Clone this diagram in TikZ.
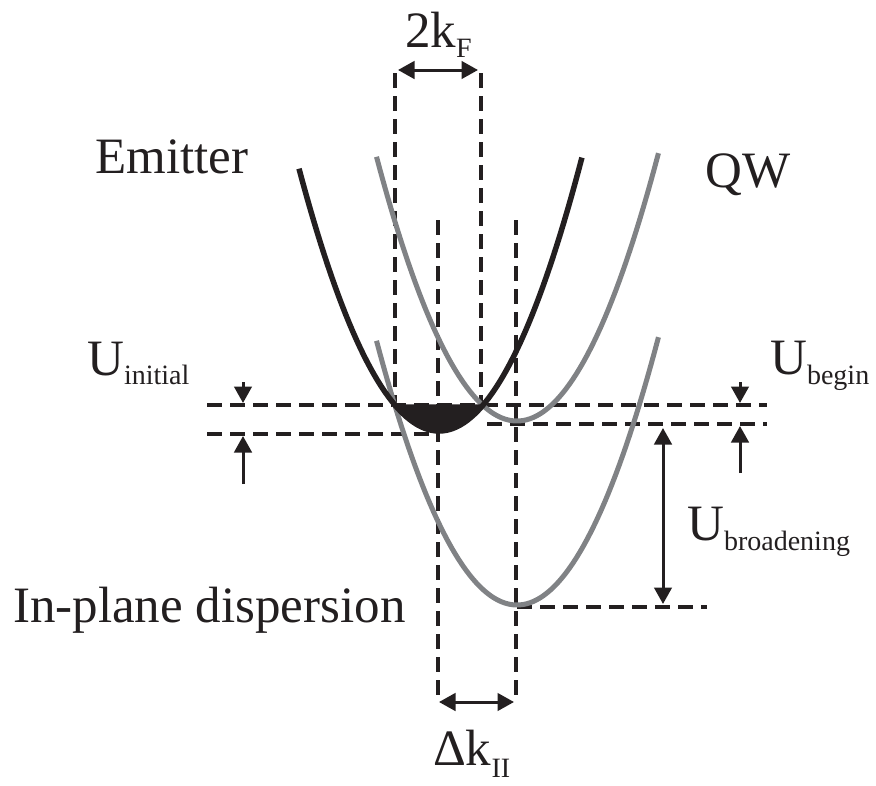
\documentclass[tikz,border=0pt]{standalone}
\usepackage{fontspec}
\setmainfont{Liberation Serif}
\usetikzlibrary{arrows.meta}
\definecolor{ink}{RGB}{35,31,32}
\definecolor{qwgray}{RGB}{128,130,133}
\tikzset{
  guide/.style={ink, line width=3.2pt, dash pattern=on 15pt off 8pt},
  emit/.style={ink, line width=5.5pt},
  qw/.style={qwgray, line width=5pt},
  headtip/.tip={Triangle[length=16.5pt 0 0, width=17.5pt 0 0]},
  dimarrow/.style={ink, line width=3pt, -headtip},
  ddimarrow/.style={ink, line width=3pt, headtip-headtip},
  big/.style={inner sep=0pt, anchor=base west, font=\fontsize{51}{51}\selectfont, text=ink},
}
\newcommand{\lowsub}[2]{\raisebox{-#1}{\fontsize{28}{28}\selectfont #2}}
\begin{document}
\begin{tikzpicture}[x=1pt,y=-1pt]
\useasboundingbox (0,0) rectangle (876,785);

% guide coordinates
\coordinate (v1a) at (395,73);  \coordinate (v1b) at (395,405);
\coordinate (v2a) at (481,73);  \coordinate (v2b) at (481,405);
\coordinate (v3a) at (438,220); \coordinate (v3b) at (438,695);
\coordinate (v4a) at (516,220); \coordinate (v4b) at (516,695);
\coordinate (h1a) at (207,405); \coordinate (h1b) at (767,405);
\coordinate (h2a) at (207,434); \coordinate (h2b) at (437,434);
\coordinate (h3a) at (487,424); \coordinate (h3b) at (767,424);
\coordinate (h4a) at (517,607); \coordinate (h4b) at (707,607);

\draw[guide] (v1a) -- (v1b);
\draw[guide] (v2a) -- (v2b);
\draw[guide] (v3a) -- (v3b);
\draw[guide] (v4a) -- (v4b);
\draw[guide] (h1a) -- (h1b);
\draw[guide] (h2a) -- (h2b);
\draw[guide] (h3a) -- (h3b);
\draw[guide] (h4a) -- (h4b);

% dispersion curves
\draw[qw] plot[domain=-1.405:1.415, samples=80] ({517+100*\x}, {421-133.85*\x*\x});
\draw[qw] plot[domain=-1.405:1.415, samples=80] ({517+100*\x}, {605-133.85*\x*\x});
\draw[emit] plot[domain=-1.40:1.43, samples=80] ({439+100*\x}, {431-133.85*\x*\x});
\fill[ink] plot[domain=-0.45:0.45, samples=40] ({439+100*\x}, {431.5-133.85*\x*\x}) -- cycle;

% dimension arrows
\coordinate (kfl) at (398,70);  \coordinate (kfr) at (478,70);
\draw[ddimarrow] (kfl) -- (kfr);
\coordinate (dkl) at (439,702); \coordinate (dkr) at (514,702);
\draw[ddimarrow] (dkl) -- (dkr);
\coordinate (ubt) at (663,428); \coordinate (ubb) at (663,604);
\draw[ddimarrow] (ubt) -- (ubb);
\coordinate (uia) at (243,382); \coordinate (uib) at (243,403);
\draw[dimarrow] (uia) -- (uib);
\coordinate (uic) at (243,484); \coordinate (uid) at (243,436);
\draw[dimarrow] (uic) -- (uid);
\coordinate (uga) at (740,382); \coordinate (ugb) at (740,403);
\draw[dimarrow] (uga) -- (ugb);
\coordinate (ugc) at (740,473); \coordinate (ugd) at (740,426);
\draw[dimarrow] (ugc) -- (ugd);

% labels
\node[big] (emitter) at (95,173) {Emitter};
\node[big] (qwlabel) at (705,187) {QW};
\node[big] (inplane) at (13,622) {In-plane dispersion};
\node[big] (kf) at (405,47) {2k\lowsub{10pt}{F}};
\node[big] (dk) at (433,765) {Δk\lowsub{12pt}{II}};
\node[big] (uinit) at (87,375) {U\lowsub{9pt}{initial}};
\node[big] (ubegin) at (770,374) {U\lowsub{10pt}{begin}};
\node[big] (ubroad) at (687,540) {U\lowsub{10pt}{broadening}};
\end{tikzpicture}
\end{document}
